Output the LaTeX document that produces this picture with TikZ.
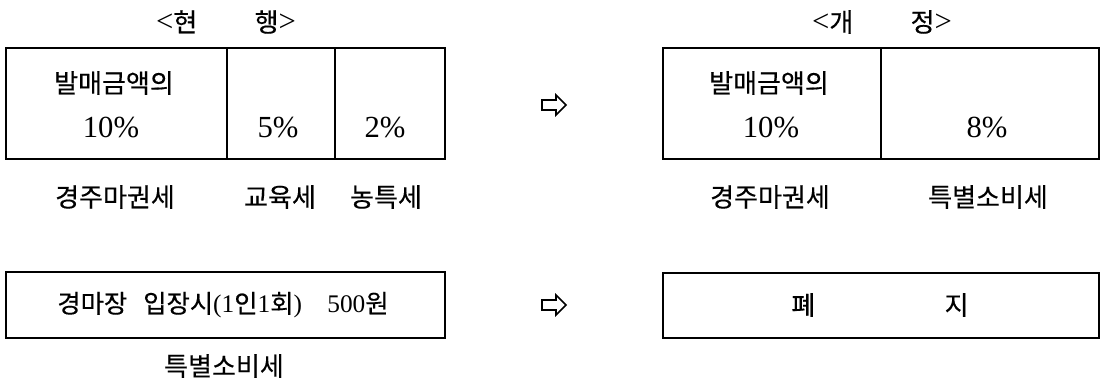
\documentclass[tikz,border=0pt]{standalone}
\usepackage{fontspec}
\setmainfont{Liberation Serif}
\newfontfamily\cjk[FakeBold=0.4]{Noto Sans CJK KR}
\newcommand\kor[1]{{\cjk #1}}
\newcommand\brk[1]{{\fontsize{23}{27}\selectfont #1}}
\begin{document}
\begin{tikzpicture}[x=0.75pt,y=-0.75pt,
  frame/.style={line width=1.3pt},
  ko/.style={font=\cjk\fontsize{19.5}{23}\selectfont, inner sep=0pt},
  num/.style={font=\fontsize{23}{27}\selectfont, inner sep=0pt},
  mixed/.style={font=\fontsize{19}{23}\selectfont, inner sep=0pt},
  head/.style={font=\fontsize{19.5}{23}\selectfont, inner sep=0pt},
  conv/.style={line width=1.2pt, line join=miter}]
\useasboundingbox (0,0) rectangle (1103,382);

% headers
\node[head] (hcur) at (226,22) {\brk{<}\kor{현}\hspace{43pt}\kor{행}\brk{>}};
\node[head] (hnew) at (882,22) {\brk{<}\kor{개}\hspace{43pt}\kor{정}\brk{>}};

% current table
\draw[frame] (6,48) rectangle (445,159);
\draw[frame] (227,48) -- (227,159);
\draw[frame] (335,48) -- (335,159);
\node[ko] (c1a) at (114,83) {발매금액의};
\node[num] (c1b) at (111,128) {10\%};
\node[num] (c2) at (278,128) {5\%};
\node[num] (c3) at (385,128) {2\%};
\node[ko] (l1) at (115,197) {경주마권세};
\node[ko] (l2) at (280,197) {교육세};
\node[ko] (l3) at (386,197) {농특세};

% revised table
\draw[frame] (663,48) rectangle (1099,159);
\draw[frame] (881,48) -- (881,159);
\node[ko] (n1a) at (769,83) {발매금액의};
\node[num] (n1b) at (771,128) {10\%};
\node[num] (n2) at (987,128) {8\%};
\node[ko] (m1) at (770,197) {경주마권세};
\node[ko] (m2) at (988,197) {특별소비세};

% bottom boxes
\draw[frame] (6,272) rectangle (445,338);
\node[mixed] (b1) at (223,305) {\kor{경마장}\hspace{12pt}\kor{입장시}(1\kor{인}1\kor{회})\hspace{19pt}500\kor{원}};
\node[ko] (b1l) at (224,366) {특별소비세};

\draw[frame] (663,273) rectangle (1099,338);
\node[ko] (b2) at (880,305) {폐\hspace{97pt}지};

% conversion arrows
\draw[conv,shift={(554,105)}] (-12,-5) -- (2,-5) -- (2,-10) -- (12,0) -- (2,10) -- (2,5) -- (-12,5) -- cycle;
\draw[conv,shift={(554,305)}] (-12,-5) -- (2,-5) -- (2,-10) -- (12,0) -- (2,10) -- (2,5) -- (-12,5) -- cycle;
\end{tikzpicture}
\end{document}
